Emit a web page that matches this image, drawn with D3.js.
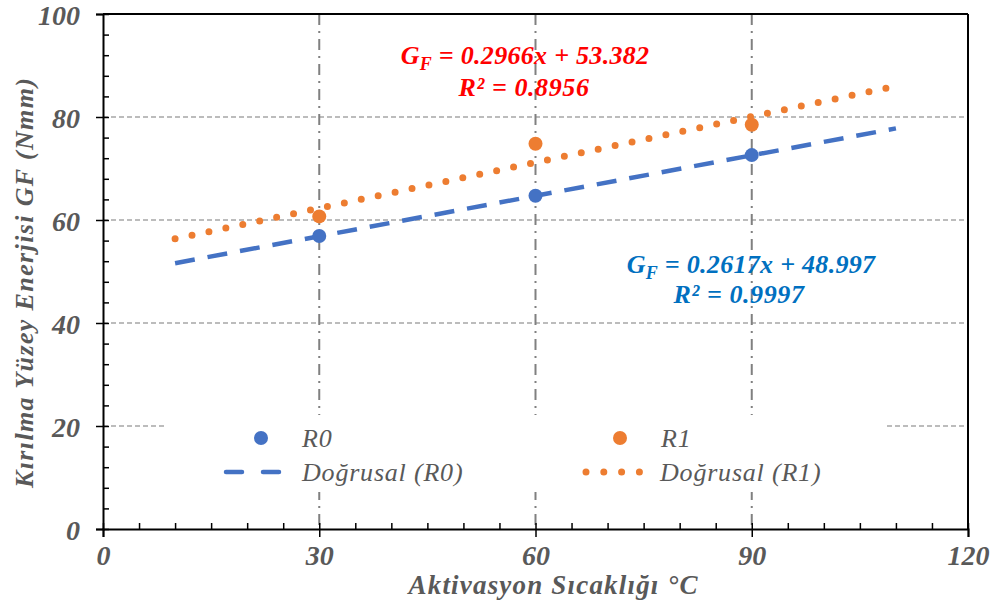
<!DOCTYPE html>
<html>
<head>
<meta charset="utf-8">
<script src="https://cdn.jsdelivr.net/npm/d3@7"></script>
<style>
  body { margin: 0; background: #fff; }
  text { font-family: "Liberation Serif", "Times New Roman", serif; }
</style>
</head>
<body>
<div id="chart"></div>
<script>
// veriler
var temps = [30, 60, 90];
var r0 = [56.9, 64.7, 72.6];
var r1 = [60.7, 74.8, 78.5];
var xTicks = [0, 30, 60, 90, 120];
var yTicks = [0, 20, 40, 60, 80, 100];
// trend: GF = a*x + b, 10..110 arası
var trendR0 = {a: 0.2617, b: 48.997};
var trendR1 = {a: 0.2966, b: 53.382};
var trendRange = [10, 110];
var eqR1 = ["0.2966x + 53.382", "0.8956"];
var eqR0 = ["0.2617x + 48.997", "0.9997"];

var W = 995, H = 602;
var margin = {top: 14, right: 27, bottom: 73, left: 103},
    width = W - margin.left - margin.right,
    height = H - margin.top - margin.bottom;

var grayText = "#595959";
var blue = "#4472c4", orange = "#ed7d31";

var svg = d3.select("#chart").append("svg")
    .attr("width", W).attr("height", H)
    .append("g")
    .attr("transform", "translate(" + margin.left + "," + margin.top + ")");

var x = d3.scaleLinear().domain([0, 120]).range([0, width]);
var y = d3.scaleLinear().domain([0, 100]).range([height, 0]);

// yatay grid (kesikli)
svg.append("g").selectAll("line")
    .data([20, 40, 60, 80])
    .enter().append("line")
    .attr("x1", 0).attr("x2", width)
    .attr("y1", function(d) { return y(d); })
    .attr("y2", function(d) { return y(d); })
    .attr("stroke", "#a6a6a6")
    .attr("stroke-width", 1.5)
    .attr("stroke-dasharray", "5,3");

// dikey grid (çizgi-nokta)
svg.append("g").selectAll("line")
    .data([30, 60, 90])
    .enter().append("line")
    .attr("x1", function(d) { return x(d); })
    .attr("x2", function(d) { return x(d); })
    .attr("y1", 0).attr("y2", height)
    .attr("stroke", "#808080")
    .attr("stroke-width", 2)
    .attr("stroke-dasharray", "11,6,2,6");

// legend kutusu gridleri kapatır
svg.append("rect")
    .attr("x", 165 - margin.left).attr("y", 415 - margin.top)
    .attr("width", 722).attr("height", 77)
    .attr("fill", "#fff");

// çerçeve
svg.append("line").attr("x1", 0).attr("x2", width).attr("y1", 0).attr("y2", 0)
    .attr("stroke", "#000").attr("stroke-width", 2);
svg.append("line").attr("x1", width).attr("x2", width).attr("y1", 0).attr("y2", height)
    .attr("stroke", "#000").attr("stroke-width", 2);

// eksenler
var yAxis = svg.append("g")
    .call(d3.axisLeft(y).tickValues(yTicks).tickSize(7).tickPadding(16).tickFormat(d3.format("d")));
var yMinor = svg.append("g")
    .call(d3.axisLeft(y).tickValues(d3.range(0, 101, 4)).tickSize(-6).tickFormat(""));
var xAxis = svg.append("g")
    .attr("transform", "translate(0," + height + ")")
    .call(d3.axisBottom(x).tickValues(xTicks).tickSize(8).tickPadding(8).tickFormat(d3.format("d")));
var xMinor = svg.append("g")
    .attr("transform", "translate(0," + height + ")")
    .call(d3.axisBottom(x).tickValues(d3.range(0, 121, 5)).tickSize(-6).tickFormat(""));

svg.selectAll(".domain").attr("stroke", "#000").attr("stroke-width", 2);
svg.selectAll(".tick line").attr("stroke", "#000").attr("stroke-width", 1.5);
[yAxis, xAxis].forEach(function(a) {
    a.selectAll("text")
        .style("font-family", "'Liberation Serif', serif")
        .style("font-size", "28px")
        .style("font-weight", "bold")
        .style("font-style", "italic")
        .attr("fill", grayText);
});
yAxis.selectAll("text").attr("dy", "0.36em");
yMinor.select(".domain").remove();
xMinor.select(".domain").remove();

// trend çizgileri
function trendLine(t) {
    return trendRange.map(function(v) { return [x(v), y(t.a * v + t.b)]; });
}
var line = d3.line();
svg.append("path")
    .attr("d", line(trendLine(trendR0)))
    .attr("stroke", blue).attr("stroke-width", 4.5).attr("fill", "none")
    .attr("stroke-dasharray", "20,13");
svg.append("path")
    .attr("d", line(trendLine(trendR1)))
    .attr("stroke", orange).attr("stroke-width", 7).attr("fill", "none")
    .attr("stroke-linecap", "round")
    .attr("stroke-dasharray", "0,17.3");

// noktalar
svg.append("g").selectAll("circle")
    .data(temps)
    .enter().append("circle")
    .attr("cx", function(d) { return x(d); })
    .attr("cy", function(d, i) { return y(r0[i]); })
    .attr("r", 7).attr("fill", blue);
svg.append("g").selectAll("circle")
    .data(temps)
    .enter().append("circle")
    .attr("cx", function(d) { return x(d); })
    .attr("cy", function(d, i) { return y(r1[i]); })
    .attr("r", 7).attr("fill", orange);

// denklemler
function equation(eq, cx1, cx2, y1, y2, color) {
    var t = svg.append("text")
        .attr("x", cx1 - margin.left).attr("y", y1 - margin.top)
        .attr("text-anchor", "middle")
        .attr("fill", color)
        .style("font-size", "26px").style("font-weight", "bold").style("font-style", "italic")
        .style("letter-spacing", "0.3px");
    t.append("tspan").text("G");
    t.append("tspan").attr("dy", 6).style("font-size", "18px").text("F");
    t.append("tspan").attr("dy", -6).text(" = " + eq[0]);
    svg.append("text")
        .attr("x", cx2 - margin.left).attr("y", y2 - margin.top)
        .attr("text-anchor", "middle")
        .attr("fill", color)
        .style("font-size", "26px").style("font-weight", "bold").style("font-style", "italic")
        .style("letter-spacing", "0.6px")
        .text("R² = " + eq[1]);
}
equation(eqR1, 525, 524, 64, 96, "#ff0000");
equation(eqR0, 751, 739, 273, 303, "#0070c0");

// legend
var lg = svg.append("g").attr("transform", "translate(" + (-margin.left) + "," + (-margin.top) + ")");
var legendItems = [
    {label: "R0", type: "dot", color: blue, lx: 261, ty: 438},
    {label: "Doğrusal (R0)", type: "dash", color: blue, lx: 254, ty: 472},
    {label: "R1", type: "dot", color: orange, lx: 620, ty: 438},
    {label: "Doğrusal (R1)", type: "dots", color: orange, lx: 612, ty: 472}
];
legendItems.forEach(function(d) {
    if (d.type === "dot") {
        lg.append("circle").attr("cx", d.lx).attr("cy", d.ty).attr("r", 7).attr("fill", d.color);
    } else if (d.type === "dash") {
        lg.append("line").attr("x1", d.lx - 28).attr("x2", d.lx + 29)
            .attr("y1", d.ty).attr("y2", d.ty)
            .attr("stroke", d.color).attr("stroke-width", 4.5)
            .attr("stroke-linecap", "round")
            .attr("stroke-dasharray", "16,21");
    } else {
        lg.append("line").attr("x1", d.lx - 26).attr("x2", d.lx + 28)
            .attr("y1", d.ty).attr("y2", d.ty)
            .attr("stroke", d.color).attr("stroke-width", 7)
            .attr("stroke-linecap", "round")
            .attr("stroke-dasharray", "0,17.8");
    }
    lg.append("text")
        .attr("x", d.lx + (d.type === "dot" ? 41 : 48 ))
        .attr("y", d.ty + 9)
        .attr("fill", grayText)
        .style("font-size", "26px").style("font-style", "italic")
        .style("letter-spacing", "0.8px")
        .text(d.label);
});

// eksen başlıkları
svg.append("text")
    .attr("x", 553 - margin.left).attr("y", 594 - margin.top)
    .attr("text-anchor", "middle")
    .attr("fill", grayText)
    .attr("textLength", 289).attr("lengthAdjust", "spacing")
    .style("font-size", "27px").style("font-weight", "bold").style("font-style", "italic")
    .text("Aktivasyon Sıcaklığı °C");
svg.append("text")
    .attr("transform", "translate(" + (33 - margin.left) + "," + (283 - margin.top) + ") rotate(-90)")
    .attr("text-anchor", "middle")
    .attr("fill", grayText)
    .attr("textLength", 410).attr("lengthAdjust", "spacing")
    .style("font-size", "26px").style("font-weight", "bold").style("font-style", "italic")
    .text("Kırılma Yüzey Enerjisi GF (Nmm)");
</script>
</body>
</html>
